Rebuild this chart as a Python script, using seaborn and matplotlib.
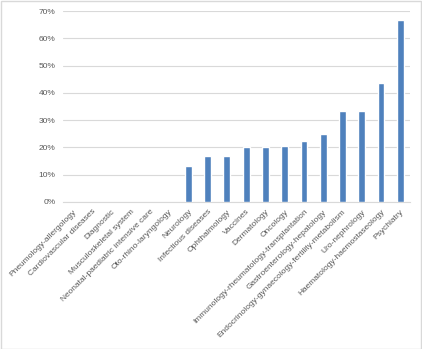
import matplotlib
matplotlib.use("Agg")
import matplotlib.pyplot as plt
import seaborn as sns
import pandas as pd
from matplotlib.ticker import PercentFormatter
from matplotlib.patches import Rectangle

categories = [
    "Pneumology-allergology", "Cardiovascular diseases", "Diagnostic",
    "Musculoskeletal system", "Neonatal-paediatric intensive care",
    "Oto-rhino-laryngology", "Neurology", "Infectious diseases",
    "Ophthalmology", "Vaccines", "Dermatology", "Oncology",
    "Immunology-rheumatology-transplantation", "Gastroenterology-hepatology",
    "Endocrinology-gynaecology-fertility-metabolism", "Uro-nephrology",
    "Haematology-haemostaseology", "Psychiatry",
]
values = [0, 0, 0, 0, 0, 0, 0.133, 0.167, 0.167, 0.20, 0.20, 0.204,
          0.225, 0.25, 0.333, 0.333, 0.437, 0.667]
yticks = [0, 0.1, 0.2, 0.3, 0.4, 0.5, 0.6, 0.7]

df = pd.DataFrame({"category": categories, "value": values})

sns.set_style("white")
plt.rcParams["font.family"] = ["Liberation Sans", "DejaVu Sans"]

fig = plt.figure(figsize=(4.22, 3.49), dpi=100)
ax = fig.add_axes([63 / 422, 1 - 202 / 349, (410 - 63) / 422, (202 - 11) / 349])

sns.barplot(data=df, x="category", y="value", color="#4F81BD", width=0.35,
            saturation=1, ax=ax, zorder=3)

ax.set_xlim(-0.5, len(categories) - 0.5)
ax.set_ylim(0, 0.7)
ax.set_yticks(yticks)
ax.yaxis.set_major_formatter(PercentFormatter(1.0, decimals=0))
ax.grid(axis="y", color="#D9D9D9", linewidth=0.8, zorder=0)
ax.set_axisbelow(True)
for s in ["top", "right", "left"]:
    ax.spines[s].set_visible(False)
ax.spines["bottom"].set_color("#D9D9D9")
ax.spines["bottom"].set_linewidth(0.8)
ax.set_xlabel("")
ax.set_ylabel("")
ax.tick_params(axis="both", length=0, colors="#595959", labelsize=6)
ax.tick_params(axis="x", pad=4.5)
ax.tick_params(axis="y", pad=5.5)
for lbl in ax.get_xticklabels():
    lbl.set_rotation(45)
    lbl.set_ha("right")
    lbl.set_rotation_mode("anchor")

fig.patches.append(Rectangle((0.5 / 422, 0.5 / 349), 1 - 1.5 / 422, 1 - 1.5 / 349,
                             transform=fig.transFigure, fill=False,
                             edgecolor="#D9D9D9", linewidth=1))

fig.savefig("out.png", dpi=100)
